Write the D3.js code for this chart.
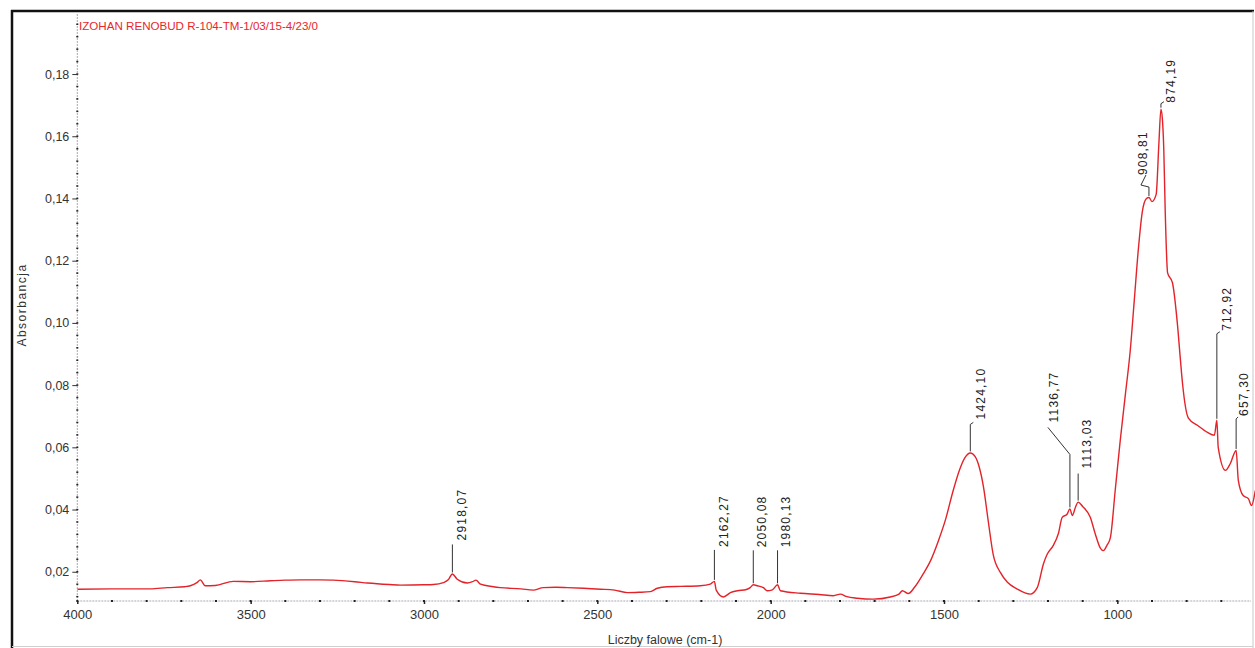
<!DOCTYPE html>
<html>
<head>
<meta charset="utf-8">
<script src="https://cdn.jsdelivr.net/npm/d3@7"></script>
<style>
  html, body { margin: 0; padding: 0; background: #fff; }
  svg { display: block; font-family: "Liberation Sans", Arial, sans-serif; }
</style>
</head>
<body>
<svg id="chart" width="1255" height="648"></svg>
<script>
// ---------------- data ----------------
const chartTitle = "IZOHAN RENOBUD R-104-TM-1/03/15-4/23/0";
const xAxisTitle = "Liczby falowe (cm-1)";
const yAxisTitle = "Absorbancja";

const wavenumbers = [
  4000, 3900, 3789, 3740, 3690, 3674, 3655, 3645, 3631, 3602, 3550, 3500, 3443, 3400, 3357, 3300,
  3262, 3200, 3163, 3100, 3068, 3000, 2973, 2944, 2930, 2918.07, 2904, 2875, 2860, 2850, 2837,
  2800, 2780, 2720, 2685, 2656, 2620, 2587, 2540, 2491, 2450, 2413, 2380, 2347, 2327, 2298, 2260,
  2203, 2174, 2162.27, 2157, 2136, 2116, 2096, 2070, 2059, 2050.08, 2038, 2020, 2010, 1995,
  1980.13, 1972, 1914, 1860, 1819, 1799, 1780, 1750, 1704, 1655, 1630, 1620, 1603, 1585, 1560,
  1539, 1516, 1495, 1475, 1455, 1440, 1424.10, 1410, 1398, 1386, 1372, 1358, 1337, 1317, 1290, 1251, 1231,
  1213, 1202, 1185, 1170, 1159, 1145, 1136.77, 1130, 1120, 1113.03, 1100, 1078, 1064, 1049, 1040,
  1030, 1020, 1006, 991.5, 977, 962.6, 951, 939.5, 928, 916.5, 908.81, 900, 888, 880, 874.19, 870, 866, 862, 855, 841,
  827, 818, 812, 795, 769, 740, 720, 712.92, 709, 688, 674, 657.30, 651, 637, 622, 613, 602
];
const absorbance = [
  0.0144, 0.0145, 0.0145, 0.0149, 0.0152, 0.0155, 0.0165, 0.0174, 0.0155, 0.0156, 0.0169, 0.0168, 0.0171, 0.0173, 0.0174, 0.0174,
  0.0173, 0.0168, 0.0164, 0.0159, 0.0157, 0.0158, 0.0159, 0.0165, 0.0174, 0.0193, 0.0176, 0.0164, 0.0168, 0.0173, 0.0160,
  0.0152, 0.0149, 0.0145, 0.0141, 0.0149, 0.0150, 0.0149, 0.0147, 0.0144, 0.0141, 0.0133, 0.0134, 0.0136, 0.0147, 0.0152, 0.0153,
  0.0155, 0.0160, 0.0169, 0.0141, 0.0119, 0.0133, 0.0139, 0.0143, 0.0149, 0.0158, 0.0155, 0.0148, 0.0139, 0.0142,
  0.0158, 0.0139, 0.0131, 0.0127, 0.0123, 0.0128, 0.0120, 0.0115, 0.0112, 0.0119, 0.0128, 0.0139, 0.0130, 0.0150, 0.0193,
  0.0235, 0.0300, 0.0370, 0.0455, 0.0528, 0.0566, 0.0582, 0.0570, 0.0535, 0.0472, 0.0360, 0.0255, 0.0197, 0.0166, 0.0145, 0.0128, 0.0149,
  0.0226, 0.0257, 0.0284, 0.0323, 0.0375, 0.0385, 0.0402, 0.0381, 0.0410, 0.0424, 0.0410, 0.0375, 0.0323, 0.0276, 0.0268,
  0.0285, 0.0310, 0.0463, 0.0623, 0.0768, 0.0913, 0.1074, 0.1235, 0.1357, 0.1399, 0.1403, 0.1390, 0.1413, 0.1580, 0.1687, 0.1655, 0.1558, 0.1365, 0.1161, 0.1129,
  0.1000, 0.0881, 0.0806, 0.0694, 0.0671, 0.0648, 0.0639, 0.0687, 0.0600, 0.0526, 0.0548, 0.0590, 0.0494, 0.0445, 0.0435, 0.0413, 0.0461
];

const peakWavenumbers = [2918.07, 2162.27, 2050.08, 1980.13, 1424.10, 1136.77, 1113.03, 908.81, 874.19, 712.92, 657.30];
const peakLabels = ["2918,07", "2162,27", "2050,08", "1980,13", "1424,10", "1136,77", "1113,03", "908,81", "874,19", "712,92", "657,30"];

const xTicks = [4000, 3500, 3000, 2500, 2000, 1500, 1000];
const xMinorStep = 100;
const yTicks = [0.02, 0.04, 0.06, 0.08, 0.10, 0.12, 0.14, 0.16, 0.18];
const yMinorStep = 0.004;

// ---------------- layout (pixels) ----------------
const peakLayout = [
  { stem: 28, hook: 0, tx: 9, gap: 4 },
  { stem: 30, hook: 0, tx: 9, gap: 3 },
  { stem: 33, hook: 0, tx: 9, gap: 3 },
  { stem: 33, hook: 0, tx: 8.5, gap: 3 },
  { stem: 27, hook: 3, tx: 10, gap: 5 },
  { stem: 53, lean: [-22, -27], tx: 6, gap: 5 },
  { stem: 27, hook: 0, tx: 9, gap: 5 },
  { stem: 9, lean2: true, tx: -6, gap: 0 },
  { stem: 4, hook: 3, tx: 10, gap: 1 },
  { stem: 85, hook: 3, tx: 10, gap: 3 },
  { stem: 30, hook: 2, tx: 8, gap: 3 }
];

const W = 1255, H = 648;
const plot = { left: 77.3, right: 1256, top: 14, bottom: 601 };

const svg = d3.select("#chart");

const x = d3.scaleLinear().domain([4000, 600]).range([plot.left, plot.right]);
const y = d3.scaleLinear().domain([0.0106, 0.1993]).range([plot.bottom, plot.top]);

// frame
svg.append("line").attr("x1", 11).attr("x2", 1254).attr("y1", 11).attr("y2", 11)
  .attr("stroke", "#111").attr("stroke-width", 2.5);
svg.append("line").attr("x1", 12).attr("x2", 12).attr("y1", 10).attr("y2", 648)
  .attr("stroke", "#111").attr("stroke-width", 2.5);
svg.append("line").attr("x1", 1253).attr("x2", 1253).attr("y1", 11).attr("y2", 648)
  .attr("stroke", "#c8c8c8").attr("stroke-width", 1);
svg.append("line").attr("x1", 12).attr("x2", 1253).attr("y1", 646.5).attr("y2", 646.5)
  .attr("stroke", "#d0d0d0").attr("stroke-width", 1);

// ---------------- axes ----------------
const fmt = v => d3.format(".2f")(v).replace(".", ",");

svg.append("line").attr("x1", plot.left).attr("x2", plot.left)
  .attr("y1", plot.top).attr("y2", plot.bottom)
  .attr("stroke", "#a8a8b8").attr("stroke-width", 1).attr("stroke-dasharray", "2,1");
const yMinor = d3.range(0.012, 0.1993, yMinorStep);
svg.append("g").selectAll("rect").data(yMinor).join("rect")
  .attr("x", plot.left - 1).attr("y", d => y(d) - 0.75).attr("width", 2).attr("height", 1.5)
  .attr("fill", "#222");
const yAxis = d3.axisLeft(y).tickValues(yTicks).tickFormat(fmt).tickSize(5).tickPadding(3);
const gy = svg.append("g").attr("transform", `translate(${plot.left},0)`).call(yAxis);
gy.select(".domain").remove();
gy.selectAll(".tick line").attr("stroke", "#333");
gy.selectAll(".tick text").attr("fill", "#333").attr("font-size", 12.5)
  .attr("font-family", "Liberation Sans, Arial, sans-serif");

svg.append("line").attr("x1", plot.left).attr("x2", 1251)
  .attr("y1", plot.bottom).attr("y2", plot.bottom)
  .attr("stroke", "#a8a8b8").attr("stroke-width", 1).attr("stroke-dasharray", "2,1");
const xMinor = d3.range(4000, 600, -xMinorStep);
svg.append("g").selectAll("rect").data(xMinor).join("rect")
  .attr("x", d => x(d) - 1).attr("y", plot.bottom - 1).attr("width", 2).attr("height", 2)
  .attr("fill", "#222");
const xAxis = d3.axisBottom(x).tickValues(xTicks).tickFormat(d3.format("d")).tickSize(3).tickPadding(6);
const gx = svg.append("g").attr("transform", `translate(0,${plot.bottom})`).call(xAxis);
gx.select(".domain").remove();
gx.selectAll(".tick line").attr("stroke", "#222").attr("stroke-width", 1.5);
gx.selectAll(".tick text").attr("fill", "#333").attr("font-size", 13)
  .attr("font-family", "Liberation Sans, Arial, sans-serif");

svg.append("text").attr("x", 665).attr("y", 644).attr("text-anchor", "middle")
  .attr("font-size", 12.5).attr("fill", "#333").text(xAxisTitle);
svg.append("text").attr("transform", "translate(26,305) rotate(-90)").attr("text-anchor", "middle")
  .attr("font-size", 12).attr("letter-spacing", 1.5).attr("fill", "#333").text(yAxisTitle);

svg.append("text").attr("x", 79).attr("y", 29.5).attr("font-size", 11.6)
  .attr("fill", "#e8262c").text(chartTitle);

// ---------------- spectrum ----------------
const spectrum = wavenumbers.map((w, i) => ({ w, a: absorbance[i] }));
svg.append("defs").append("clipPath").attr("id", "clip")
  .append("rect").attr("x", plot.left).attr("y", 0).attr("width", W - plot.left).attr("height", plot.bottom);
svg.append("path").datum(spectrum)
  .attr("clip-path", "url(#clip)")
  .attr("d", d3.line().curve(d3.curveMonotoneX).x(d => x(d.w)).y(d => y(d.a)))
  .attr("fill", "none").attr("stroke", "#e3232a").attr("stroke-width", 1.4)
  .attr("stroke-linejoin", "round");

// ---------------- peak annotations ----------------
const ann = svg.append("g");
peakWavenumbers.forEach((pw, i) => {
  const idx = d3.minIndex(wavenumbers, w => Math.abs(w - pw));
  const px = x(pw);
  const tip = y(absorbance[idx]) - 1.5;
  const L = peakLayout[i];
  let d = `M${px},${tip} V${tip - L.stem}`;
  let endX = px, endY = tip - L.stem;
  if (L.lean) {
    endX = px + L.lean[0]; endY = tip - L.stem + L.lean[1];
    d += ` L${endX},${endY}`;
  } else if (L.lean2) {
    d += ` L${px - 8},${tip - L.stem - 2} L${px - 3},${tip - L.stem - 12}`;
    endX = px; endY = tip - L.stem - 12;
  } else if (L.hook) {
    d += ` l${L.hook},-2`;
  }
  ann.append("path").attr("d", d).attr("fill", "none").attr("stroke", "#333").attr("stroke-width", 1);
  const tx = (L.lean ? endX : px) + L.tx;
  const ty = endY - L.gap;
  ann.append("text")
    .attr("transform", `translate(${tx},${ty}) rotate(-90)`)
    .attr("dy", "0.35em")
    .attr("font-size", 12).attr("letter-spacing", 1.2).attr("fill", "#222")
    .text(peakLabels[i]);
});
</script>
</body>
</html>
